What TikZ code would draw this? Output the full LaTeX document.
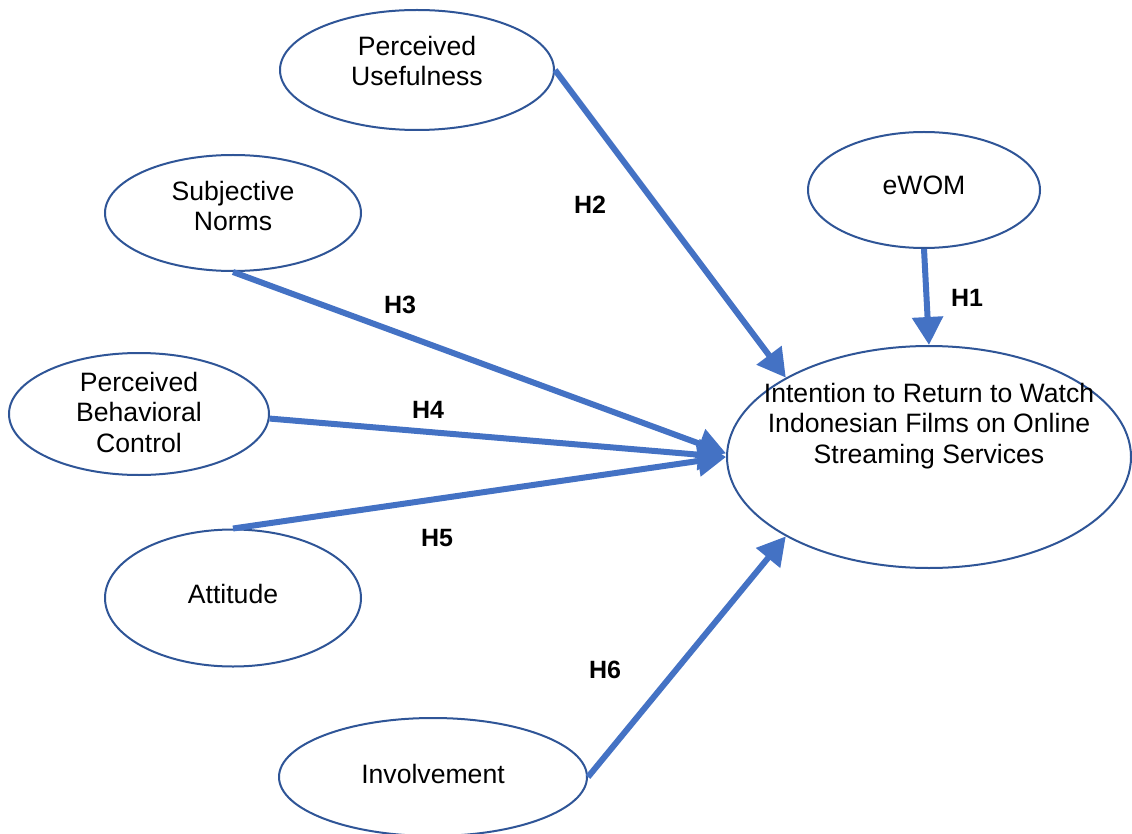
\documentclass[tikz,border=0pt]{standalone}
\usepackage{fontspec}
\setmainfont{Liberation Sans}
\usetikzlibrary{shapes.geometric,arrows.meta}
\definecolor{arr}{HTML}{4472C4}
\definecolor{edgeblue}{HTML}{2F5597}
\begin{document}
\begin{tikzpicture}[x=1pt,y=-1pt,
  ell/.style={ellipse,draw=edgeblue,line width=2pt,inner sep=0pt,fill=white},
  txt/.style={align=center,font=\fontsize{26.6}{30.5}\selectfont,inner sep=0pt},
  hyp/.style={font=\fontsize{25}{30}\selectfont\bfseries,inner sep=0pt},
  conn/.style={draw=arr,line width=6pt,-{Triangle[length=28pt,width=30pt]}}]
\useasboundingbox (0,0) rectangle (1132,834);

\node[ell,minimum width=274pt,minimum height=120pt,
  label={[txt,yshift=9pt]center:{Perceived\\Usefulness}}] (pu) at (417,70) {};
\node[ell,minimum width=256pt,minimum height=116pt,
  label={[txt,yshift=7pt]center:{Subjective\\Norms}}] (sn) at (233,213) {};
\node[ell,minimum width=260pt,minimum height=122pt,
  label={[txt,yshift=2pt]center:{Perceived\\Behavioral\\Control}}] (pbc) at (139,414) {};
\node[ell,minimum width=256pt,minimum height=137pt,
  label={[txt,yshift=4pt]center:{Attitude}}] (att) at (233,598) {};
\node[ell,minimum width=308pt,minimum height=118pt,
  label={[txt,yshift=3pt]center:{Involvement}}] (inv) at (433,777) {};
\node[ell,minimum width=232pt,minimum height=116pt,
  label={[txt,yshift=5pt]center:{eWOM}}] (ewom) at (924,190) {};
\node[ell,minimum width=404pt,minimum height=222pt,
  label={[txt,yshift=31pt]center:{Intention to Return to Watch\\Indonesian Films on Online\\Streaming Services}}] (int) at (929,457) {};

\draw[conn] (pu.east) -- (int.151);
\draw[conn] (sn.south) -- (int.179.5);
\draw[conn] (pbc.-2) -- (int.180);
\draw[conn] (att.north) -- (int.180.6);
\draw[conn] (inv.east) -- (int.209);
\draw[conn] (ewom.south) -- (int.north);

\node[hyp] (h1) at (967,298) {H1};
\node[hyp] (h2) at (590,205) {H2};
\node[hyp] (h3) at (400,305) {H3};
\node[hyp] (h4) at (428,410) {H4};
\node[hyp] (h5) at (437,538) {H5};
\node[hyp] (h6) at (605,670) {H6};
\end{tikzpicture}
\end{document}
